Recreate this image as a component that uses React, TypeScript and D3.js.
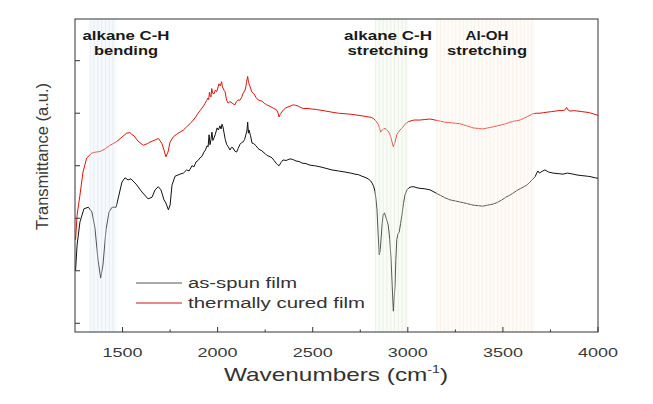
import React from "react";
import * as d3 from "d3";

// [wavenumber (cm-1), transmittance (a.u.)]
const asSpun: [number, number][] = [
  [1253, 1.01], [1261, 1.49], [1276, 1.93], [1297, 2.18], [1320, 2.21], [1339, 2.12],
  [1355, 1.81], [1371, 1.21], [1385, 0.86], [1397, 1.11], [1413, 1.78], [1429, 2.12],
  [1445, 2.21], [1466, 2.21], [1481, 2.44], [1497, 2.69], [1513, 2.77], [1529, 2.73],
  [1544, 2.75], [1571, 2.65], [1602, 2.5], [1634, 2.37], [1655, 2.4], [1671, 2.54],
  [1688, 2.6], [1702, 2.54], [1718, 2.35], [1728, 2.29], [1741, 2.16], [1750, 2.25],
  [1760, 2.63], [1776, 2.8], [1802, 2.84], [1820, 2.86], [1837, 2.92], [1850, 2.9],
  [1865, 3.0], [1876, 2.98], [1886, 3.07], [1897, 3.1], [1907, 3.15], [1918, 3.18],
  [1928, 3.26], [1936, 3.3], [1944, 3.38], [1950, 3.36], [1955, 3.59], [1960, 3.4],
  [1965, 3.5], [1970, 3.64], [1975, 3.48], [1981, 3.53], [1988, 3.6], [1997, 3.72],
  [2004, 3.68], [2012, 3.76], [2018, 3.7], [2023, 3.79], [2028, 3.74], [2033, 3.64],
  [2040, 3.5], [2048, 3.4], [2056, 3.36], [2065, 3.3], [2073, 3.35], [2081, 3.34],
  [2090, 3.28], [2100, 3.26], [2108, 3.33], [2118, 3.41], [2126, 3.44], [2133, 3.45],
  [2142, 3.5], [2149, 3.6], [2154, 3.66], [2158, 3.83], [2162, 3.62], [2165, 3.68],
  [2173, 3.57], [2181, 3.43], [2190, 3.42], [2202, 3.38], [2212, 3.33], [2223, 3.3],
  [2232, 3.29], [2239, 3.26], [2250, 3.23], [2258, 3.2], [2270, 3.18], [2286, 3.15],
  [2297, 3.1], [2307, 3.05], [2315, 3.02], [2323, 3.0], [2333, 3.06], [2344, 3.11],
  [2360, 3.1], [2380, 3.13], [2395, 3.12], [2412, 3.09], [2428, 3.08], [2444, 3.05],
  [2465, 3.04], [2486, 3.01], [2510, 3.0], [2538, 2.98], [2570, 2.95], [2601, 2.92],
  [2635, 2.9], [2670, 2.88], [2700, 2.86], [2722, 2.84], [2740, 2.83], [2759, 2.8],
  [2775, 2.78], [2791, 2.75], [2805, 2.71], [2812, 2.67], [2820, 2.61], [2827, 2.52],
  [2833, 2.35], [2838, 2.16], [2844, 1.7], [2850, 1.3], [2855, 1.4], [2859, 1.59],
  [2865, 1.9], [2871, 2.08], [2877, 2.1], [2883, 2.04], [2890, 1.96], [2897, 1.87],
  [2905, 1.6], [2912, 1.21], [2918, 0.7], [2924, 0.23], [2928, 0.45], [2933, 0.73],
  [2937, 1.2], [2942, 1.59], [2948, 1.7], [2955, 1.74], [2962, 1.9], [2969, 2.06],
  [2977, 2.28], [2985, 2.44], [2995, 2.54], [3006, 2.58], [3020, 2.6], [3032, 2.6],
  [3048, 2.58], [3064, 2.57], [3090, 2.56], [3117, 2.54], [3143, 2.49], [3169, 2.44],
  [3195, 2.39], [3222, 2.35], [3248, 2.33], [3274, 2.31], [3310, 2.28], [3343, 2.25],
  [3370, 2.24], [3395, 2.23], [3420, 2.25], [3448, 2.27], [3470, 2.3], [3495, 2.35],
  [3515, 2.4], [3537, 2.44], [3558, 2.49], [3579, 2.54], [3600, 2.58], [3625, 2.63],
  [3640, 2.68], [3653, 2.73], [3669, 2.79], [3678, 2.86], [3684, 2.9], [3692, 2.86],
  [3700, 2.88], [3710, 2.9], [3721, 2.92], [3740, 2.88], [3763, 2.86], [3790, 2.85],
  [3816, 2.84], [3840, 2.86], [3869, 2.84], [3895, 2.82], [3921, 2.81], [3945, 2.8],
  [3963, 2.79], [3985, 2.77], [4000, 2.76],
];

const thermallyCured: [number, number][] = [
  [1253, 1.59], [1261, 2.06], [1276, 2.44], [1292, 2.88], [1312, 3.15], [1338, 3.24],
  [1360, 3.26], [1381, 3.27], [1408, 3.32], [1434, 3.39], [1450, 3.42], [1469, 3.46],
  [1492, 3.53], [1508, 3.58], [1522, 3.62], [1539, 3.63], [1548, 3.6], [1560, 3.57],
  [1581, 3.47], [1609, 3.39], [1630, 3.42], [1644, 3.45], [1671, 3.49], [1688, 3.52],
  [1706, 3.43], [1718, 3.3], [1728, 3.17], [1739, 3.26], [1750, 3.45], [1767, 3.55],
  [1785, 3.6], [1802, 3.64], [1820, 3.68], [1837, 3.74], [1855, 3.8], [1872, 3.87],
  [1885, 3.93], [1897, 4.0], [1908, 4.05], [1918, 4.1], [1926, 4.14], [1934, 4.19],
  [1942, 4.24], [1949, 4.29], [1953, 4.26], [1957, 4.4], [1961, 4.33], [1965, 4.31],
  [1969, 4.47], [1974, 4.38], [1981, 4.37], [1988, 4.44], [1995, 4.41], [2001, 4.48],
  [2007, 4.56], [2014, 4.52], [2021, 4.6], [2025, 4.5], [2028, 4.48], [2033, 4.44],
  [2039, 4.41], [2047, 4.25], [2056, 4.19], [2063, 4.22], [2070, 4.21], [2080, 4.18],
  [2091, 4.16], [2099, 4.22], [2107, 4.25], [2118, 4.25], [2126, 4.3], [2133, 4.37],
  [2144, 4.44], [2148, 4.5], [2152, 4.59], [2158, 4.7], [2162, 4.6], [2165, 4.56],
  [2173, 4.48], [2179, 4.41], [2191, 4.37], [2202, 4.3], [2214, 4.25], [2223, 4.24],
  [2233, 4.23], [2245, 4.19], [2258, 4.16], [2270, 4.14], [2281, 4.12], [2296, 4.09],
  [2311, 4.06], [2318, 4.0], [2323, 3.93], [2328, 3.97], [2333, 4.0], [2345, 4.06],
  [2358, 4.1], [2370, 4.12], [2385, 4.14], [2398, 4.16], [2410, 4.15], [2422, 4.14],
  [2436, 4.11], [2450, 4.09], [2475, 4.09], [2496, 4.08], [2520, 4.07], [2538, 4.06],
  [2570, 4.04], [2601, 4.02], [2635, 4.0], [2670, 3.99], [2700, 3.98], [2722, 3.97],
  [2759, 3.95], [2791, 3.93], [2808, 3.92], [2819, 3.9], [2833, 3.85], [2846, 3.78],
  [2857, 3.64], [2865, 3.68], [2872, 3.7], [2880, 3.71], [2888, 3.69], [2896, 3.66],
  [2907, 3.59], [2917, 3.45], [2924, 3.36], [2933, 3.45], [2942, 3.59], [2954, 3.66],
  [2968, 3.71], [2985, 3.79], [3003, 3.84], [3032, 3.87], [3064, 3.87], [3090, 3.88],
  [3117, 3.89], [3143, 3.87], [3169, 3.85], [3195, 3.83], [3222, 3.82], [3248, 3.81],
  [3274, 3.8], [3310, 3.76], [3343, 3.72], [3370, 3.71], [3395, 3.7], [3420, 3.72],
  [3448, 3.74], [3470, 3.76], [3495, 3.78], [3515, 3.8], [3537, 3.83], [3560, 3.85],
  [3590, 3.87], [3625, 3.93], [3658, 3.99], [3676, 4.0], [3695, 4.0], [3712, 4.01],
  [3732, 4.02], [3755, 4.03], [3774, 4.04], [3795, 4.05], [3811, 4.05], [3825, 4.06],
  [3835, 4.11], [3843, 4.06], [3853, 4.04], [3875, 4.05], [3895, 4.04], [3915, 4.03],
  [3937, 4.02], [3955, 4.01], [3974, 3.99], [3990, 3.97], [4000, 3.96],
];

const seriesNames = ["as-spun film", "thermally cured film"];

// shaded assignment regions (cm-1)
const bandRanges: [number, number][] = [
  [1330, 1470],
  [2830, 3002],
  [3152, 3668],
];
const bandLabels: string[][] = [
  ["alkane C-H", "bending"],
  ["alkane C-H", "stretching"],
  ["Al-OH", "stretching"],
];

const xMajorTicks = [1500, 2000, 2500, 3000, 3500, 4000];
const xMinorTicks = [1750, 2250, 2750, 3250, 3750];
const yTicks = [0, 1, 2, 3, 4, 5];
const xDomain: [number, number] = [1250, 4000];
const yDomain: [number, number] = [-0.166, 5.794];

const FONT = "'Liberation Sans', Arial, Helvetica, sans-serif";

export default function App() {
  const W = 653;
  const H = 404;
  const left = 75, right = 598, top = 19, bottom = 332;
  const x = d3.scaleLinear().domain(xDomain).range([left, right]);
  const y = d3.scaleLinear().domain(yDomain).range([bottom, top]);
  const line = d3
    .line<[number, number]>()
    .x((d) => x(d[0]))
    .y((d) => y(d[1]));

  const bandFill = ["#e6eef5", "#ebf2e4", "#fdf4ec"];
  const bandStripe = ["#cddbe8", "#d6e5cb", "#f6e2d2"];
  const labelGeom = [
    { cx: 126, w1: 87, w2: 64 },
    { cx: 388, w1: 88, w2: 81 },
    { cx: 487, w1: 43, w2: 80 },
  ];

  return (
    <svg width={W} height={H} style={{ display: "block", position: "absolute", left: 0, top: 0 }} fontFamily={FONT}>
      <rect x={0} y={0} width={W} height={H} fill="#fff" />
      <defs>
        <clipPath id="plotClip">
          <rect x={left} y={top} width={right - left} height={bottom - top} />
        </clipPath>
      </defs>

      <g clipPath="url(#plotClip)">
        <path d={line(asSpun) || ""} fill="none" stroke="#111" strokeWidth={1} />
        <path d={line(thermallyCured) || ""} fill="none" stroke="#e3120b" strokeWidth={1} />
      </g>

      {/* translucent bands overlaid */}
      {bandRanges.map(([a, b], i) => (
        <g key={"band" + i}>
          <rect x={x(a)} y={top} width={x(b) - x(a)} height={bottom - top} fill={bandFill[i]} opacity={0.3} />
          {d3.range(a, b, 20).map((v, j) => (
            <line key={j} x1={x(v)} x2={x(v)} y1={top} y2={bottom} stroke={bandStripe[i]} strokeWidth={1} opacity={0.4} />
          ))}
        </g>
      ))}

      {/* axes box */}
      <rect x={left} y={top} width={right - left} height={bottom - top} fill="none" stroke="#333" strokeWidth={1} />
      {xMajorTicks.map((t) => (
        <g key={"xt" + t}>
          <line x1={x(t)} x2={x(t)} y1={bottom} y2={bottom - 5} stroke="#333" />
          <text x={x(t)} y={357} textAnchor="middle" fontSize={13} fill="#3a3a3a" textLength={40} lengthAdjust="spacingAndGlyphs">
            {t}
          </text>
        </g>
      ))}
      {xMinorTicks.map((t) => (
        <line key={"xm" + t} x1={x(t)} x2={x(t)} y1={bottom} y2={bottom - 2.5} stroke="#333" />
      ))}
      {yTicks.map((t) => (
        <line key={"yt" + t} x1={left} x2={left + 5} y1={y(t)} y2={y(t)} stroke="#333" />
      ))}

      {/* axis titles */}
      <text x={336} y={381} textAnchor="middle" fontSize={19} fill="#333" textLength={224} lengthAdjust="spacingAndGlyphs">
        Wavenumbers (cm
        <tspan fontSize={11} dy={-8}>-1</tspan>
        <tspan dy={8}>)</tspan>
      </text>
      <text
        transform="translate(48,156.5) rotate(-90)"
        textAnchor="middle"
        fontSize={16}
        fill="#3a3a3a"
        textLength={147}
        lengthAdjust="spacingAndGlyphs"
      >
        Transmittance (a.u.)
      </text>

      {/* band labels */}
      {bandLabels.map((lines, i) => (
        <g key={"bl" + i}>
          <text x={labelGeom[i].cx} y={39.5} textAnchor="middle" fontSize={12.5} fontWeight="bold" fill="#1a1a1a" textLength={labelGeom[i].w1} lengthAdjust="spacingAndGlyphs">
            {lines[0]}
          </text>
          <text x={labelGeom[i].cx} y={55} textAnchor="middle" fontSize={12.5} fontWeight="bold" fill="#1a1a1a" textLength={labelGeom[i].w2} lengthAdjust="spacingAndGlyphs">
            {lines[1]}
          </text>
        </g>
      ))}

      {/* legend */}
      {seriesNames.map((name, i) => (
        <g key={"lg" + i}>
          <line x1={136} x2={182} y1={283 + i * 20} y2={283 + i * 20} stroke={i === 0 ? "#555" : "#c4161c"} strokeWidth={1} />
          <text x={188} y={288 + i * 20} fontSize={14} fill="#333" textLength={i === 0 ? 109 : 177} lengthAdjust="spacingAndGlyphs">
            {name}
          </text>
        </g>
      ))}
    </svg>
  );
}
